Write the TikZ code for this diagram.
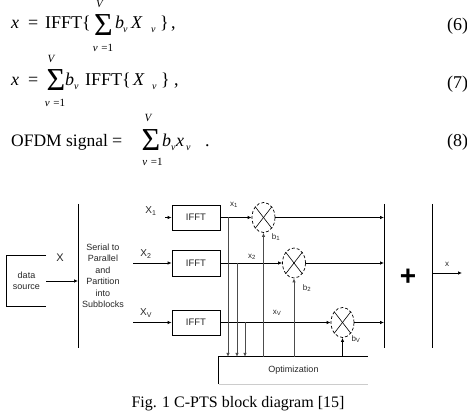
\documentclass[tikz,border=0pt]{standalone}
\usepackage{fontspec}
\setmainfont{Liberation Serif}
\newfontfamily\arial{Liberation Sans}
\usetikzlibrary{arrows.meta,shapes.geometric}
\begin{document}
\begin{tikzpicture}[x=1pt,y=-1pt,
  eq/.style={font=\fontsize{18}{20}\selectfont, inner sep=0, anchor=base west},
  sb/.style={font=\itshape\fontsize{10}{11}\selectfont, inner sep=0, anchor=base west},
  lim/.style={font=\fontsize{11}{12}\selectfont, inner sep=0},
  sig/.style={font=\fontsize{32}{33}\selectfont, inner sep=0},
  lbl/.style={font=\arial\fontsize{9}{11.5}\selectfont, inner sep=0, text=black!85},
  sml/.style={font=\arial\fontsize{8}{9}\selectfont, inner sep=0, text=black!85},
  blk/.style={draw, line width=0.7pt, minimum width=48pt, inner sep=0, font=\arial\fontsize{9.5}{10}\selectfont, text=black!85},
  mult/.style={ellipse, draw, densely dashed, line width=0.7pt, minimum width=23pt, minimum height=30pt, inner sep=0},
  arr/.style={-{Latex[length=4pt,width=3.5pt]}, line width=0.7pt},
  ln/.style={line width=0.7pt}]
\useasboundingbox (0,0) rectangle (467,411);

% ---------- equation (6) ----------
\node[eq] (e6x) at (11,29) {\textit{x}};
\node[eq] (e6eq) at (28,29) {=};
\node[eq] (e6f) at (45,29) {IFFT\{};
\node[sig] (e6s) at (103.5,25) {Σ};
\node[lim] (e6V) at (100,4) {\textit{V}};
\node[lim] (e6l) at (103,47.5) {\textit{v}\,\,=1};
\node[eq] (e6b) at (115,29) {\textit{b}};
\node[sb] (e6bv) at (123,33) {v};
\node[eq] (e6X) at (131,29) {\textit{X}};
\node[sb] (e6Xv) at (151,33) {v};
\node[eq] (e6c) at (160,29) {\}};
\node[eq] (e6m) at (171,29) {,};
\node[eq] (e6n) at (447,31) {(6)};

% ---------- equation (7) ----------
\node[eq] (e7x) at (11,86) {\textit{x}};
\node[eq] (e7eq) at (28,86) {=};
\node[sig] (e7s) at (56,80) {Σ};
\node[lim] (e7V) at (51.5,59) {\textit{V}};
\node[lim] (e7l) at (55,102.5) {\textit{v}\,\,=1};
\node[eq] (e7b) at (65,86) {\textit{b}};
\node[sb] (e7bv) at (74,90) {v};
\node[eq] (e7f) at (85,86) {IFFT\{};
\node[eq] (e7X) at (133,86) {\textit{X}};
\node[sb] (e7Xv) at (152,90) {v};
\node[eq] (e7c) at (161,86) {\}};
\node[eq] (e7m) at (174,86) {,};
\node[eq] (e7n) at (447,89) {(7)};

% ---------- equation (8) ----------
\node[eq, font=\fontsize{17.5}{20}\selectfont] (e8t) at (11,147) {OFDM signal};
\node[eq] (e8eq) at (112,147) {=};
\node[sig] (e8s) at (151,140) {Σ};
\node[lim] (e8V) at (148.5,117.5) {\textit{V}};
\node[lim] (e8l) at (152.5,162) {\textit{v}\,\,=1};
\node[eq] (e8b) at (162,147) {\textit{b}};
\node[sb] (e8bv) at (171,151) {v};
\node[eq] (e8x) at (176,147) {\textit{x}};
\node[sb] (e8xv) at (186,151) {v};
\node[eq] (e8d) at (205,147) {.};
\node[eq] (e8n) at (447,147) {(8)};

% ---------- block diagram ----------
\node[lbl, minimum width=39pt, minimum height=50pt, align=center] (ds) at (26.5,281) {data\\source};
\draw[ln] (ds.north east) -- (ds.north west) -- (ds.south west) -- (ds.south east);

\coordinate (spT) at (78,204);
\coordinate (spB) at (78,348);
\draw[ln] (spT) -- (spB);
\coordinate (spIn) at (78,281);
\draw[arr] (ds.east |- spIn) -- (spIn);
\node[font=\arial\fontsize{11}{12}\selectfont, inner sep=0, text=black!85] (lX) at (60,258) {X};
\node[lbl, align=center] (sptext) at (103,276) {Serial to\\Parallel\\and\\Partition\\into\\Subblocks};

% IFFT blocks
\node[blk, minimum height=25pt] (b1) at (196,217.5) {IFFT};
\node[blk, minimum height=26pt] (b2) at (196,263) {IFFT};
\node[blk, minimum height=25pt] (b3) at (196,322.5) {IFFT};

\coordinate (in1) at (165,217.5);
\coordinate (in2) at (133,263);
\coordinate (in3) at (133,322.5);
\draw[arr] (in1) -- (b1.west);
\draw[arr] (in2) -- (b2.west);
\draw[arr] (in3) -- (b3.west);
\node[font=\arial\fontsize{10}{11}\selectfont, inner sep=0, text=black!85] (lX1) at (151,211) {X\textsubscript{1}};
\node[font=\arial\fontsize{10}{11}\selectfont, inner sep=0, text=black!85] (lX2) at (146,254) {X\textsubscript{2}};
\node[font=\arial\fontsize{10}{11}\selectfont, inner sep=0, text=black!85] (lX3) at (146,313) {X\textsubscript{V}};

% multipliers
\node[mult] (m1) at (263.5,217.5) {};
\node[mult] (m2) at (294,263) {};
\node[mult] (m3) at (342.5,322.5) {};
\foreach \m in {m1,m2,m3}{
  \draw[line width=0.6pt] (\m.north west) -- (\m.south east);
  \draw[line width=0.6pt] (\m.north east) -- (\m.south west);
}

\draw[arr] (b1.east) -- (b1.east -| m1.west);
\draw[arr] (b2.east) -- (b2.east -| m2.west);
\draw[arr] (b3.east) -- (b3.east -| m3.west);
\node[sml] (lx1) at (234,205) {x\textsubscript{1}};
\node[sml] (lx2) at (252,257) {x\textsubscript{2}};
\node[sml] (lx3) at (277,313) {x\textsubscript{V}};

% optimization block
\node[minimum width=149pt, minimum height=27pt, inner sep=0, font=\arial\fontsize{9}{10}\selectfont, text=black!85] (opt) at (293.5,370.5) {Optimization};
\draw[ln] (opt.south west) -- (opt.north west) -- (opt.north east);
\draw[line width=0.6pt, black!20] (opt.south west) -- (opt.south east);

% taps to optimization
\coordinate (t1) at (228,217.5);
\coordinate (t2) at (237,263);
\coordinate (t3) at (245,322.5);
\draw[arr, black!70] (t1) -- (t1 |- opt.north);
\draw[arr, black!70] (t2) -- (t2 |- opt.north);
\draw[arr, black!70] (t3) -- (t3 |- opt.north);

% phase factors
\draw[arr, black!70] (m1.south |- opt.north) -- (m1.south);
\draw[arr, black!70] (m2.south |- opt.north) -- (m2.south);
\draw[arr] (m3.south |- opt.north) -- (m3.south);
\node[sml] (lb1) at (276,237) {b\textsubscript{1}};
\node[sml] (lb2) at (307,288) {b\textsubscript{2}};
\node[sml] (lb3) at (356,339) {b\textsubscript{V}};

% summation
\coordinate (sT) at (384,204);
\coordinate (sB) at (384,348);
\draw[ln] (sT) -- (sB);
\draw[arr] (m1.east) -- (m1.east -| sT);
\draw[arr] (m2.east) -- (m2.east -| sT);
\draw[arr] (m3.east) -- (m3.east -| sT);
\node[font=\arial\bfseries\fontsize{28}{30}\selectfont, inner sep=0] (plus) at (408,277) {+};

\coordinate (rT) at (432,204);
\coordinate (rB) at (432,348);
\draw[ln] (rT) -- (rB);
\coordinate (rOut) at (432,273);
\coordinate (outEnd) at (462,273);
\draw[arr] (rOut) -- (outEnd);
\node[sml] (lout) at (447,264) {x};

% caption
\node[font=\fontsize{16}{18}\selectfont, inner sep=0] (cap) at (238,404) {Fig. 1 C-PTS block diagram [15]};
\end{tikzpicture}
\end{document}
